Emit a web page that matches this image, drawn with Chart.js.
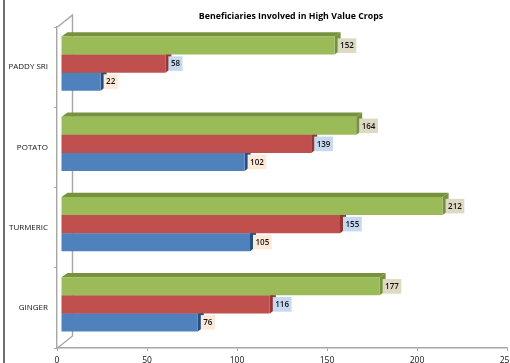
<!DOCTYPE html>
<html>
<head>
<meta charset="utf-8">
<script src="https://cdn.jsdelivr.net/npm/chart.js@4/dist/chart.umd.min.js"></script>
<style>
  html, body { margin: 0; padding: 0; background: #fff; overflow: hidden; }
  canvas { display: block; }
</style>
</head>
<body>
<canvas id="c" width="510" height="363"></canvas>
<script>
// Beneficiaries chart, fake 3D bars drawn around the normal Chart.js bars
var categories = ['PADDY SRI', 'POTATO', 'TURMERIC', 'GINGER'];
var greenValues = [152, 164, 212, 177];
var redValues = [58, 139, 155, 116];
var blueValues = [22, 102, 105, 76];
var xTicks = [0, 50, 100, 150, 200, 250];
var titleText = 'Beneficiaries Involved in High Value Crops';

var FONT = '"Open Sans", "Noto Sans", sans-serif';
var OFF_X = 4, OFF_Y = -3.5;     // front of the bars sits off the axis plane
var DEPTH_X = 6, DEPTH_Y = 4.4;  // bar depth
var WALL_X = 15, WALL_Y = 12;

function poly(ctx, pts, color) {
    ctx.fillStyle = color;
    ctx.beginPath();
    ctx.moveTo(pts[0][0], pts[0][1]);
    for (var i = 1; i < pts.length; i++) ctx.lineTo(pts[i][0], pts[i][1]);
    ctx.closePath();
    ctx.fill();
}

var wallPlugin = {
    id: 'walls',
    beforeDatasetsDraw: function (chart) {
        var a = chart.chartArea, ctx = chart.ctx;
        ctx.save();
        ctx.strokeStyle = '#a6a6a6';
        ctx.lineWidth = 1.4;
        ctx.beginPath();
        ctx.moveTo(a.left + 0.5, a.top);
        ctx.lineTo(a.left + WALL_X + 0.5, a.top - WALL_Y);
        ctx.lineTo(a.left + WALL_X + 0.5, a.bottom - WALL_Y);
        ctx.lineTo(a.left + 0.5, a.bottom);
        ctx.stroke();
        // dark edge on the left of the picture
        ctx.strokeStyle = '#404040';
        ctx.lineWidth = 1.5;
        ctx.beginPath();
        ctx.moveTo(4, 0);
        ctx.lineTo(4, 363);
        ctx.stroke();
        ctx.restore();
        ctx.save();
        ctx.translate(OFF_X, OFF_Y);
    },
    beforeDatasetDraw: function (chart, args) {
        var ctx = chart.ctx;
        var ds = chart.data.datasets[args.index];
        args.meta.data.forEach(function (bar) {
            var p = bar.getProps(['x', 'y', 'base', 'height'], true);
            var y0 = p.y - p.height / 2, y1 = p.y + p.height / 2;
            poly(ctx, [[p.base, y0], [p.base + DEPTH_X, y0 - DEPTH_Y], [p.x + DEPTH_X, y0 - DEPTH_Y], [p.x, y0]], ds.capColor);
            poly(ctx, [[p.x, y0], [p.x + DEPTH_X, y0 - DEPTH_Y], [p.x + DEPTH_X, y1 - DEPTH_Y], [p.x, y1]], ds.capColor);
        });
    },
    afterDatasetsDraw: function (chart) {
        var ctx = chart.ctx;
        chart.data.datasets.forEach(function (ds, i) {
            chart.getDatasetMeta(i).data.forEach(function (bar, j) {
                var p = bar.getProps(['x', 'y'], true);
                var txt = String(ds.data[j]);
                ctx.font = '600 8px ' + FONT;
                var w = ctx.measureText(txt).width + 5;
                ctx.fillStyle = ds.labelColor;
                ctx.fillRect(p.x + 3, p.y - 7.3, w, 14.6);
                ctx.fillStyle = '#111';
                ctx.textAlign = 'center';
                ctx.textBaseline = 'middle';
                ctx.fillText(txt, p.x + 3 + w / 2, p.y + 0.5);
            });
        });
        ctx.restore();
    }
};

new Chart(document.getElementById('c'), {
    type: 'bar',
    data: {
        labels: categories,
        datasets: [
            { label: 'Series 3', data: greenValues, backgroundColor: '#9bbb59', capColor: '#76923c', labelColor: '#ddd9c3', clip: false },
            { label: 'Series 2', data: redValues, backgroundColor: '#c0504d', capColor: '#943634', labelColor: '#c6d9f1', clip: false },
            { label: 'Series 1', data: blueValues, backgroundColor: '#4f81bd', capColor: '#254f82', labelColor: '#fde9d9', clip: false }
        ]
    },
    options: {
        indexAxis: 'y',
        responsive: false,
        animation: false,
        categoryPercentage: 0.673,
        barPercentage: 1,
        layout: { padding: { left: 0, right: 3, top: 27, bottom: 0 } },
        plugins: {
            legend: { display: false },
            tooltip: { enabled: false },
            title: { display: false }
        },
        scales: {
            x: {
                min: 0,
                max: 250,
                afterBuildTicks: function (s) { s.ticks = xTicks.map(function (v) { return { value: v }; }); },
                afterFit: function (s) { s.height = 15; s.paddingLeft = 0; s.paddingRight = 0; },
                grid: { drawOnChartArea: false, color: '#a6a6a6', tickLength: 3 },
                border: { color: '#a6a6a6', width: 1.4 },
                ticks: { color: '#111', font: { family: FONT, size: 8.5 }, maxRotation: 0, padding: 4 }
            },
            y: {
                afterFit: function (s) { s.width = 57; s.paddingTop = 0; s.paddingBottom = 0; },
                grid: { drawOnChartArea: false, color: '#a6a6a6', tickLength: 3 },
                border: { color: '#a6a6a6', width: 1.4 },
                ticks: { color: '#111', font: { family: FONT, size: 8 }, padding: 6 }
            }
        }
    },
    plugins: [wallPlugin, {
        id: 'titleText',
        afterDraw: function (chart) {
            var ctx = chart.ctx;
            ctx.save();
            ctx.font = 'bold 8.8px ' + FONT;
            ctx.fillStyle = '#000';
            ctx.textAlign = 'center';
            ctx.textBaseline = 'middle';
            ctx.fillText(titleText, 291, 16.5);
            ctx.restore();
        }
    }]
});
</script>
</body>
</html>
